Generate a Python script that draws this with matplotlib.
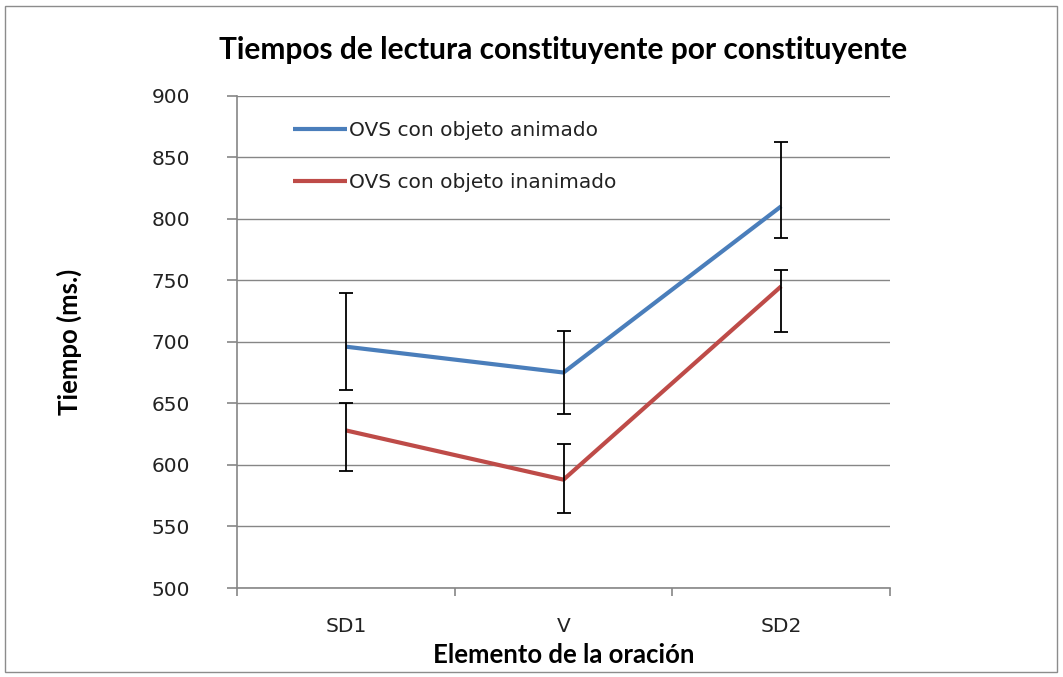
import matplotlib
matplotlib.use("Agg")
import matplotlib.pyplot as plt
from matplotlib.patches import Rectangle
import numpy as np

categories = ["SD1", "V", "SD2"]
series_names = ["OVS con objeto animado", "OVS con objeto inanimado"]
animado = [696, 675, 810]
animado_lo = [661, 641, 784]
animado_hi = [740, 709, 862]
inanimado = [628, 588, 745]
inanimado_lo = [595, 561, 708]
inanimado_hi = [650, 617, 758]
yticks = [500, 550, 600, 650, 700, 750, 800, 850, 900]

title = "Tiempos de lectura constituyente por constituyente"
xlabel = "Elemento de la oración"
ylabel = "Tiempo (ms.)"

colors = ["#4A7EBB", "#BE4B48"]
grid_c = "#868686"

fig = plt.figure(figsize=(10.63, 6.77), dpi=100)
fig.patches.append(Rectangle((5/1063, 5/677), 1052/1063, 666/677, transform=fig.transFigure,
                             fill=False, edgecolor="#8c8c8c", linewidth=1.0))
ax = fig.add_axes([237/1063, 1-588/677, 653/1063, 492.5/677])

x = np.arange(len(categories))
for vals, lo, hi, c, name in [(animado, animado_lo, animado_hi, colors[0], series_names[0]),
                              (inanimado, inanimado_lo, inanimado_hi, colors[1], series_names[1])]:
    vals = np.array(vals); lo = np.array(lo); hi = np.array(hi)
    ax.plot(x, vals, color=c, lw=3.0, label=name, zorder=3, solid_capstyle="butt")
    ax.errorbar(x, vals, yerr=[vals-lo, hi-vals], fmt="none", ecolor="black",
                elinewidth=1.3, capsize=4.8, capthick=1.3, zorder=4)

ax.set_xlim(-0.5, 2.5)
ax.set_ylim(500, 900)
ax.set_yticks(yticks)
ax.set_yticklabels([str(v) for v in yticks])
ax.yaxis.grid(True, color=grid_c, lw=1.0)
ax.set_axisbelow(True)
for s in ["top", "right"]:
    ax.spines[s].set_visible(False)
for s in ["left", "bottom"]:
    ax.spines[s].set_color(grid_c)
    ax.spines[s].set_linewidth(1.2)
ax.set_xticks(x)
ax.set_xticklabels(categories)
ax.set_xticks([-0.5, 0.5, 1.5, 2.5], minor=True)
ax.tick_params(axis="x", which="major", length=0, pad=21, labelsize=14.5, colors="#222222")
ax.tick_params(axis="x", which="minor", length=6, color=grid_c, width=1.2)
ax.tick_params(axis="y", length=7, color=grid_c, width=1.2, pad=27, labelsize=14.5, labelcolor="#222222")

ax.set_title(title, fontfamily="Lato", fontweight="bold", fontsize=21.5, pad=26)
ax.set_xlabel(xlabel, fontfamily="Lato", fontweight="bold", fontsize=18.5, labelpad=5)
ax.set_ylabel(ylabel, fontfamily="Lato", fontweight="bold", fontsize=18.5, labelpad=50)

leg = ax.legend(loc="upper left", bbox_to_anchor=(0.058, 0.985), frameon=False,
                fontsize=14.5, handlelength=2.7, handletextpad=0.1, labelspacing=1.65)
for t in leg.get_texts():
    t.set_color("#222222")

fig.savefig("out.png", dpi=100)
